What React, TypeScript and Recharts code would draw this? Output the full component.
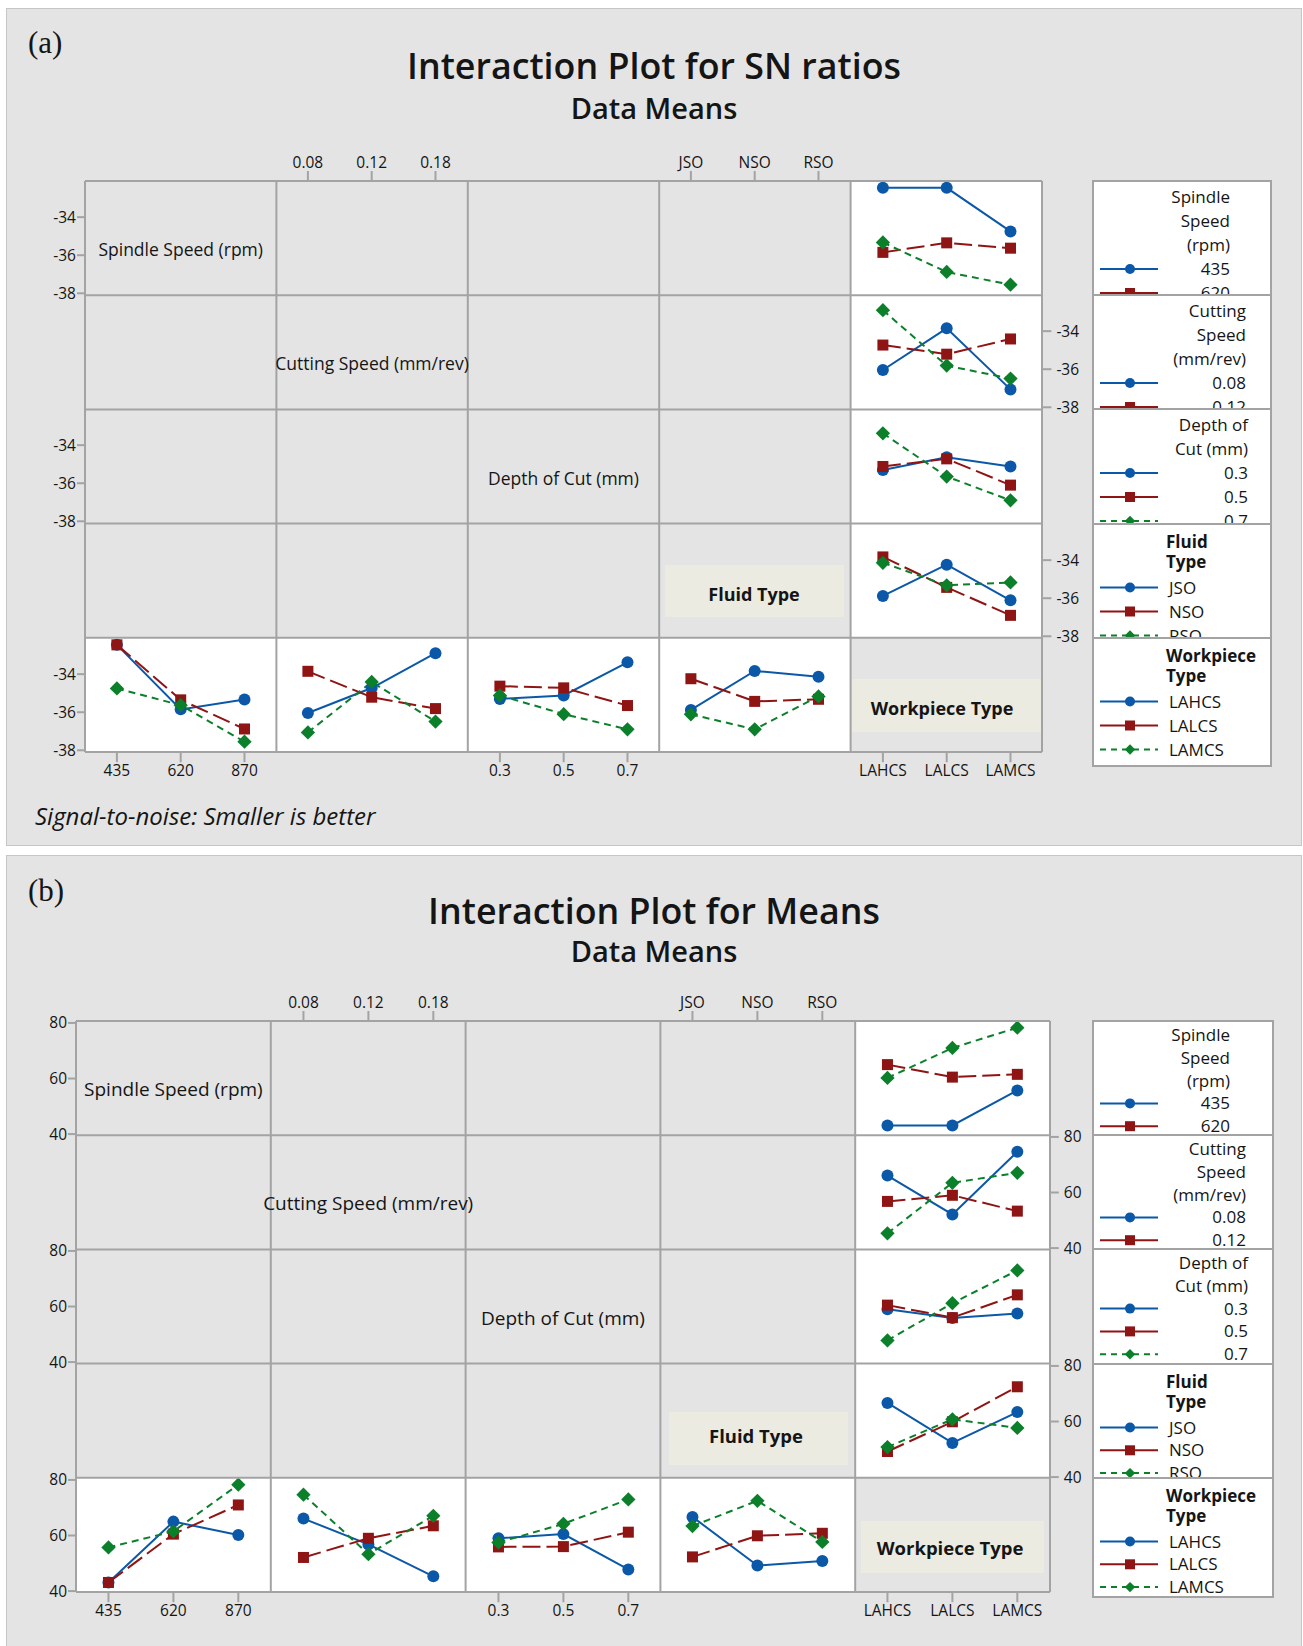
import { Line, LineChart, XAxis, YAxis } from "recharts";

const spindleLevels = ["435", "620", "870"];
const cuttingLevels = ["0.08", "0.12", "0.18"];
const depthLevels = ["0.3", "0.5", "0.7"];
const fluidLevels = ["JSO", "NSO", "RSO"];
const workpieceLevels = ["LAHCS", "LALCS", "LAMCS"];

const factorNames = [
  "Spindle Speed (rpm)",
  "Cutting Speed (mm/rev)",
  "Depth of Cut (mm)",
  "Fluid Type",
  "Workpiece Type",
];
const factorLevels = [spindleLevels, cuttingLevels, depthLevels, fluidLevels, workpieceLevels];

// cell means: one row per factor level, columns are LAHCS / LALCS / LAMCS
const snSpindle = [
  [-32.46, -32.46, -34.75],
  [-35.85, -35.35, -35.63],
  [-35.33, -36.88, -37.55],
];
const snCutting = [
  [-36.04, -33.85, -37.06],
  [-34.73, -35.21, -34.41],
  [-32.9, -35.81, -36.49],
];
const snDepth = [
  [-35.3, -34.63, -35.12],
  [-35.12, -34.72, -36.1],
  [-33.38, -35.65, -36.9],
];
const snFluid = [
  [-35.88, -34.24, -36.11],
  [-33.83, -35.43, -36.9],
  [-34.14, -35.32, -35.17],
];

const meanSpindle = [
  [43.1, 43.1, 55.7],
  [65.0, 60.5, 61.5],
  [60.2, 71.0, 78.3],
];
const meanCutting = [
  [66.1, 52.1, 74.7],
  [56.8, 59.0, 53.3],
  [45.3, 63.5, 67.1],
];
const meanDepth = [
  [59.0, 55.9, 57.5],
  [60.5, 56.0, 64.2],
  [47.8, 61.2, 73.0],
];
const meanFluid = [
  [66.7, 52.3, 63.4],
  [49.2, 59.9, 72.5],
  [50.8, 60.8, 57.7],
];

const snTicks = [-38, -36, -34];
const meanTicks = [40, 60, 80];

const FONT = "'Open Sans', 'Noto Sans', sans-serif";
const INK = "#151515";
const GRID = "#a3a3a3";
const PANEL_BG = "#e4e4e4";
const BEIGE = "#ecebe2";

const SERIES = [
  { color: "#0b58a8", dash: undefined as string | undefined, legendDash: undefined as string | undefined },
  { color: "#8f1414", dash: "18 6", legendDash: undefined },
  { color: "#0b7f2a", dash: "7 5", legendDash: "6 5" },
];

type Box = { x: number; y: number; w: number; h: number; tx: number; ty: number };

type PanelCfg = {
  top: number;
  height: number;
  tag: string;
  tagY: number;
  title: string;
  titleY: number;
  subtitleY: number;
  gridLeft: number;
  gridTop: number;
  colW: number;
  rowH: number;
  yDomain: [number, number];
  yTicks: number[];
  tables: number[][][];
  labelFont: number;
  boxFont: number;
  fluidBox: Box;
  workBox: Box;
  legendLeft: number;
  legendW: number;
  legendBottom: number;
  legendT0: number;
  legendDy: number;
  rightMargin: number;
  footnote?: string;
};

const panelA: PanelCfg = {
  top: 8,
  height: 838,
  tag: "(a)",
  tagY: 53,
  title: "Interaction Plot for SN ratios",
  titleY: 79,
  subtitleY: 118.5,
  gridLeft: 85,
  gridTop: 181,
  colW: 191.4,
  rowH: 114.2,
  yDomain: [-38.1, -32.1],
  yTicks: snTicks,
  tables: [snSpindle, snCutting, snDepth, snFluid],
  labelFont: 17.5,
  boxFont: 18,
  fluidBox: { x: 665, y: 565, w: 179, h: 52, tx: 754, ty: 600.5 },
  workBox: { x: 852, y: 679, w: 189, h: 53, tx: 942, ty: 714.5 },
  legendLeft: 1092,
  legendW: 180,
  legendBottom: 767,
  legendT0: 17,
  legendDy: 24,
  rightMargin: 5,
  footnote: "Signal-to-noise: Smaller is better",
};

const panelB: PanelCfg = {
  top: 855,
  height: 800,
  tag: "(b)",
  tagY: 901,
  title: "Interaction Plot for Means",
  titleY: 924,
  subtitleY: 961.5,
  gridLeft: 76,
  gridTop: 1021,
  colW: 194.8,
  rowH: 114.2,
  yDomain: [39.6, 80.7],
  yTicks: meanTicks,
  tables: [meanSpindle, meanCutting, meanDepth, meanFluid],
  labelFont: 19,
  boxFont: 18.5,
  fluidBox: { x: 669, y: 1412, w: 179, h: 53, tx: 756, ty: 1442.5 },
  workBox: { x: 861, y: 1521, w: 183, h: 52, tx: 950, ty: 1555 },
  legendLeft: 1092,
  legendW: 182,
  legendBottom: 1598,
  legendT0: 15,
  legendDy: 22.8,
  rightMargin: 5,
};

const legendSpecs = [
  { title: ["Spindle", "Speed", "(rpm)"], bold: false, endX: 138 },
  { title: ["Cutting", "Speed", "(mm/rev)"], bold: false, endX: 154 },
  { title: ["Depth of", "Cut (mm)"], bold: false, endX: 156 },
  { title: ["Fluid", "Type"], bold: true, endX: 0 },
  { title: ["Workpiece", "Type"], bold: true, endX: 0 },
];

function Marker({ kind, cx, cy, size }: { kind: number; cx: number; cy: number; size: number }) {
  const c = SERIES[kind].color;
  if (kind === 0) return <circle cx={cx} cy={cy} r={size / 2} fill={c} />;
  if (kind === 1)
    return <rect x={cx - size / 2} y={cy - size / 2} width={size} height={size} fill={c} />;
  const d = size * 0.65;
  return (
    <polygon
      points={`${cx},${cy - d} ${cx + d},${cy} ${cx},${cy + d} ${cx - d},${cy}`}
      fill={c}
    />
  );
}

type Axes = { left: boolean; right: boolean; top: boolean; bottom: boolean };

function CellChart({
  p,
  row,
  col,
  series,
  xLabels,
  axes,
}: {
  p: PanelCfg;
  row: number;
  col: number;
  series: number[][] | null;
  xLabels: string[];
  axes: Axes;
}) {
  const AX = 46;
  const PAD = 14;
  const padL = axes.left ? AX : 0;
  const padR = axes.right ? AX : 0;
  const padT = axes.top ? AX : 0;
  const padB = axes.bottom ? AX : 0;
  const x0 = p.gridLeft + col * p.colW;
  const y0 = p.gridTop + row * p.rowH;
  // axis-only cells carry the tick values so the y axis has something to scale
  const rows = [1, 2, 3].map((x, k) => {
    const r: Record<string, number> = { x, y: p.yTicks[k] };
    if (series) series.forEach((s, i) => (r[`s${i}`] = s[k]));
    return r;
  });
  const tickStyle = { fill: INK, fontSize: 15.5, fontFamily: FONT };
  const tickLine = { stroke: GRID, strokeWidth: 2 };
  return (
    <div style={{ position: "absolute", left: x0 - padL - PAD, top: y0 - padT - PAD }}>
      <LineChart
        width={p.colW + padL + padR + 2 * PAD}
        height={p.rowH + padT + padB + 2 * PAD}
        data={rows}
        margin={{ top: PAD, right: PAD, bottom: PAD, left: PAD }}
      >
        <XAxis
          type="number"
          dataKey="x"
          domain={[0.5, 3.5]}
          ticks={[1, 2, 3]}
          interval={0}
          hide={!axes.top && !axes.bottom}
          orientation={axes.top ? "top" : "bottom"}
          height={AX}
          tickFormatter={(v: number) => xLabels[v - 1]}
          axisLine={false}
          tickSize={10}
          tickMargin={3}
          tickLine={tickLine}
          tick={tickStyle}
        />
        <YAxis
          type="number"
          dataKey={series ? undefined : "y"}
          domain={p.yDomain}
          ticks={p.yTicks}
          interval={0}
          hide={!axes.left && !axes.right}
          orientation={axes.right ? "right" : "left"}
          width={AX}
          axisLine={false}
          tickSize={axes.right ? 9 : 8}
          tickMargin={axes.right ? p.rightMargin : 1}
          tickLine={tickLine}
          tick={tickStyle}
        />
        {series &&
          series.map((_, i) => (
            <Line
              key={i}
              dataKey={`s${i}`}
              stroke={SERIES[i].color}
              strokeWidth={2}
              strokeDasharray={SERIES[i].dash}
              isAnimationActive={false}
              activeDot={false}
              dot={(d: any) => (
                <Marker key={`m${i}-${d.index}`} kind={i} cx={d.cx} cy={d.cy} size={i === 0 ? 12 : 11} />
              )}
            />
          ))}
      </LineChart>
    </div>
  );
}

function LegendBox({ p, idx }: { p: PanelCfg; idx: number }) {
  const spec = legendSpecs[idx];
  const values = factorLevels[idx];
  const top = p.gridTop + idx * p.rowH - 1;
  const height = idx === 4 ? p.legendBottom - top : p.rowH + 2;
  const dy = p.legendDy;
  const titleY = (i: number) => (spec.bold ? 19 + i * 20 : p.legendT0 + i * dy);
  const valueY = (i: number) =>
    spec.bold ? 64.5 + i * dy : p.legendT0 + (spec.title.length + i) * dy;
  const anchor = spec.bold ? "start" : "end";
  return (
    <div
      style={{
        position: "absolute",
        left: p.legendLeft,
        top,
        width: p.legendW,
        height,
        boxSizing: "border-box",
        border: `2px solid ${GRID}`,
        background: "#fff",
        overflow: "hidden",
      }}
    >
      <svg
        width={p.legendW}
        height={height}
        style={{ position: "absolute", left: -2, top: -2 }}
        fontFamily={FONT}
        fontSize={17}
        fill={INK}
      >
        {spec.title.map((t, i) => (
          <text
            key={t}
            x={spec.bold ? 74 : spec.endX}
            y={titleY(i) + 6}
            textAnchor={anchor}
            fontWeight={spec.bold ? 700 : 400}
          >
            {t}
          </text>
        ))}
        {values.map((v, i) => {
          const cy = valueY(i);
          return (
            <g key={v}>
              <line
                x1={8}
                x2={66}
                y1={cy}
                y2={cy}
                stroke={SERIES[i].color}
                strokeWidth={2}
                strokeDasharray={SERIES[i].legendDash}
              />
              <Marker kind={i} cx={38} cy={cy} size={i === 2 ? 8 : 10} />
              <text x={spec.bold ? 77 : spec.endX} y={cy + 6} textAnchor={anchor}>
                {v}
              </text>
            </g>
          );
        })}
      </svg>
    </div>
  );
}

function Panel({ p }: { p: PanelCfg }) {
  const n = 5;
  const gridRight = p.gridLeft + n * p.colW;
  const gridBottom = p.gridTop + n * p.rowH;
  const cx = (c: number) => p.gridLeft + (c + 0.5) * p.colW;
  const cy = (r: number) => p.gridTop + (r + 0.5) * p.rowH;

  const charts = [];
  const whites = [];
  for (let r = 0; r < n; r++) {
    for (let c = 0; c < n; c++) {
      const axes: Axes = {
        left: c === 0 && r % 2 === 0,
        right: c === n - 1 && r % 2 === 1,
        top: r === 0 && c % 2 === 1,
        bottom: r === n - 1 && c % 2 === 0,
      };
      let series: number[][] | null = null;
      if (c === n - 1 && r < n - 1) {
        series = p.tables[r];
      } else if (r === n - 1 && c < n - 1) {
        const t = p.tables[c];
        series = [0, 1, 2].map((j) => t.map((row) => row[j]));
      }
      if (series) {
        whites.push(
          <rect
            key={`w${r}-${c}`}
            x={p.gridLeft + c * p.colW}
            y={p.gridTop + r * p.rowH}
            width={p.colW}
            height={p.rowH}
            fill="#fff"
          />
        );
      }
      if (!series && !axes.left && !axes.right && !axes.top && !axes.bottom) continue;
      charts.push(
        <CellChart
          key={`c${r}-${c}`}
          p={p}
          row={r}
          col={c}
          series={series}
          xLabels={factorLevels[c]}
          axes={axes}
        />
      );
    }
  }

  const gridLines = [];
  for (let i = 0; i <= n; i++) {
    const x = p.gridLeft + i * p.colW;
    const y = p.gridTop + i * p.rowH;
    gridLines.push(
      <line key={`v${i}`} x1={x} x2={x} y1={p.gridTop} y2={gridBottom} stroke={GRID} strokeWidth={2} />
    );
    gridLines.push(
      <line key={`h${i}`} x1={p.gridLeft} x2={gridRight} y1={y} y2={y} stroke={GRID} strokeWidth={2} />
    );
  }

  const svgStyle = { position: "absolute" as const, left: 0, top: 0 };

  return (
    <>
      <div
        style={{
          position: "absolute",
          left: 6,
          top: p.top,
          width: 1296,
          height: p.height,
          boxSizing: "border-box",
          background: PANEL_BG,
          border: "1.5px solid #c6c6c6",
        }}
      />
      <svg width={1303} height={1646} style={svgStyle}>
        {whites}
        {[p.fluidBox, p.workBox].map((b, i) => (
          <rect key={i} x={b.x} y={b.y} width={b.w} height={b.h} fill={BEIGE} />
        ))}
      </svg>
      {charts}
      <svg width={1303} height={1646} style={{ ...svgStyle, pointerEvents: "none" }} fontFamily={FONT} fill={INK}>
        {gridLines}
        <text x={28} y={p.tagY} fontFamily="'Liberation Serif', 'Times New Roman', serif" fontSize={31}>
          {p.tag}
        </text>
        <text x={654} y={p.titleY} textAnchor="middle" fontSize={35.8} fontWeight={600}>
          {p.title}
        </text>
        <text x={654} y={p.subtitleY} textAnchor="middle" fontSize={29} fontWeight={600}>
          Data Means
        </text>
        {[0, 1, 2].map((i) => (
          <text key={i} x={cx(i)} y={cy(i) + 18} textAnchor="middle" fontSize={p.labelFont}>
            {factorNames[i]}
          </text>
        ))}
        {[p.fluidBox, p.workBox].map((b, i) => (
          <text key={`b${i}`} x={b.tx} y={b.ty} textAnchor="middle" fontSize={p.boxFont} fontWeight={700}>
            {factorNames[3 + i]}
          </text>
        ))}
        {p.footnote && (
          <text x={35} y={825} fontSize={24} fontStyle="italic">
            {p.footnote}
          </text>
        )}
      </svg>
      {[0, 1, 2, 3, 4].map((i) => (
        <LegendBox key={i} p={p} idx={i} />
      ))}
    </>
  );
}

export default function App() {
  return (
    <div
      style={{
        position: "absolute",
        left: 0,
        top: 0,
        width: 1303,
        height: 1646,
        overflow: "hidden",
        background: "#fff",
        fontFamily: FONT,
      }}
    >
      <Panel p={panelA} />
      <Panel p={panelB} />
    </div>
  );
}
